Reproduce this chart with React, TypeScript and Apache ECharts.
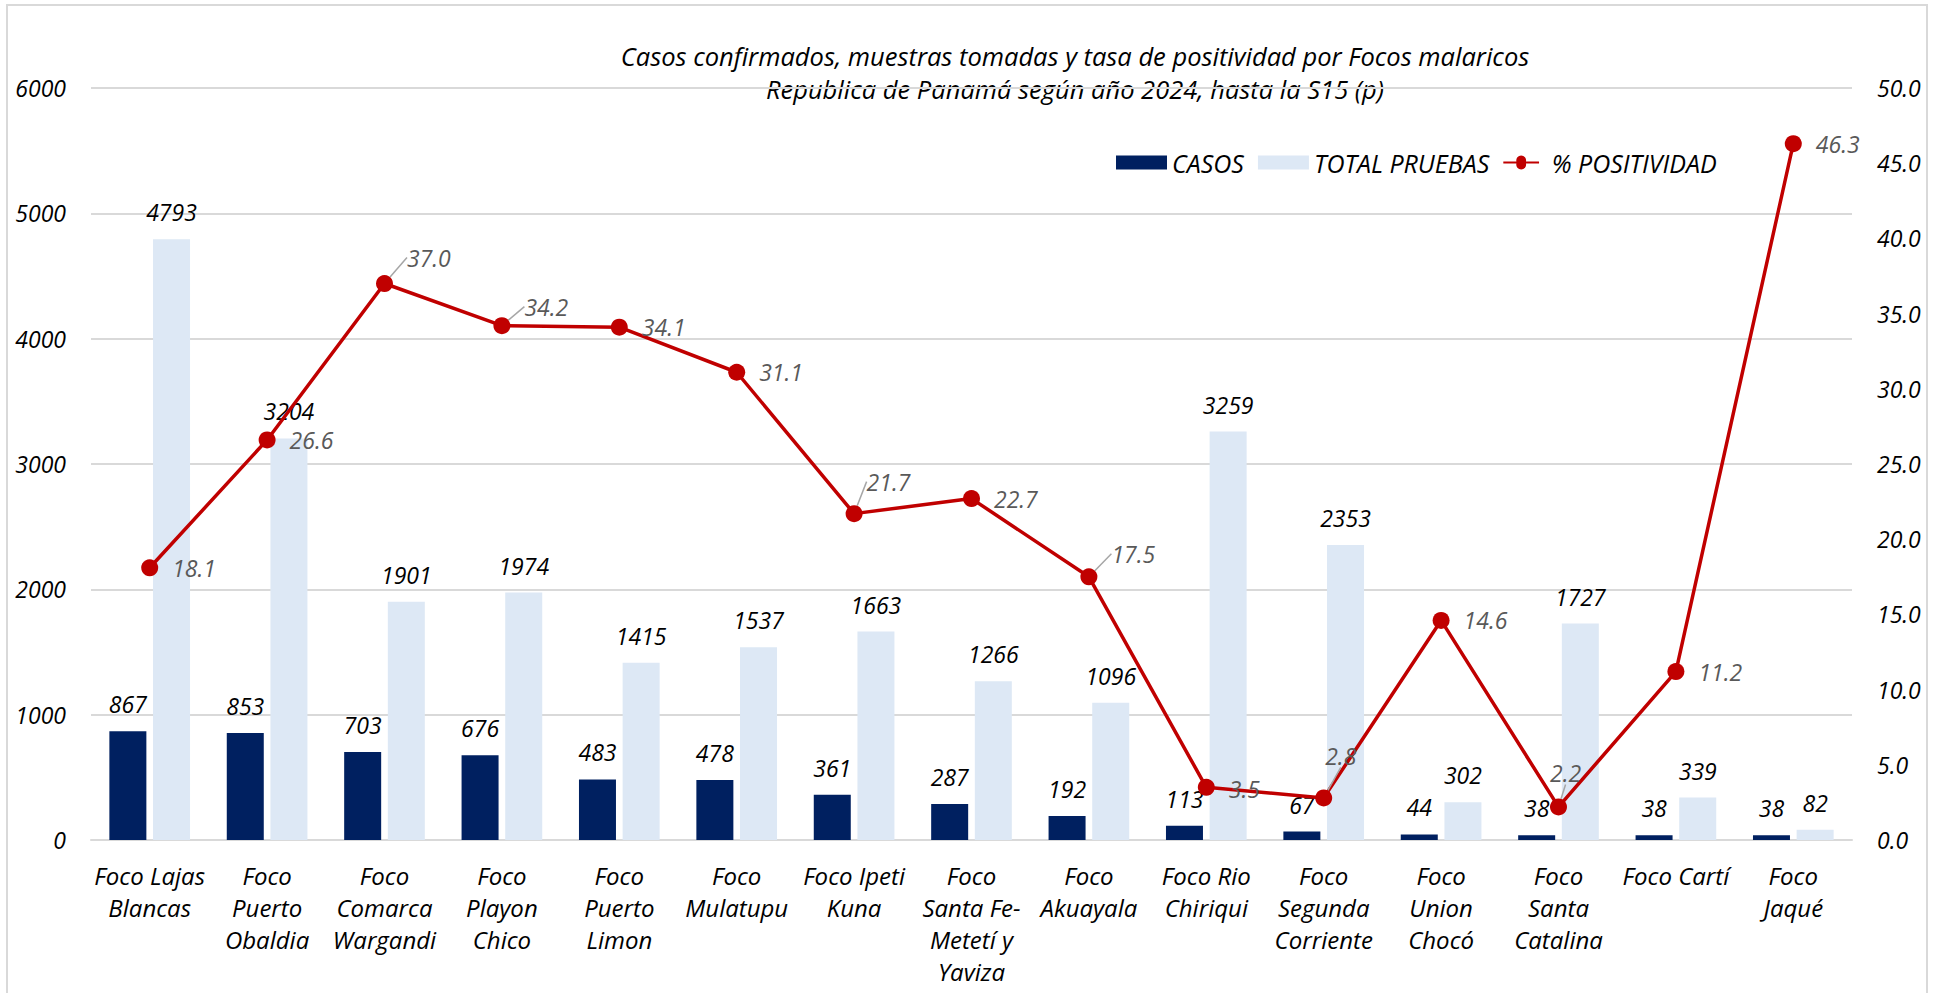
import { useEffect, useRef } from "react";
import * as echarts from "echarts";

const TITLE_LINES = [
  "Casos confirmados, muestras tomadas y tasa de positividad por Focos malaricos",
  "Republica de Panamá según año 2024, hasta la S15 (p)",
];

const CATEGORIES = [
  "Foco Lajas\nBlancas",
  "Foco\nPuerto\nObaldia",
  "Foco\nComarca\nWargandi",
  "Foco\nPlayon\nChico",
  "Foco\nPuerto\nLimon",
  "Foco\nMulatupu",
  "Foco Ipeti\nKuna",
  "Foco\nSanta Fe-\nMetetí y\nYaviza",
  "Foco\nAkuayala",
  "Foco Rio\nChiriqui",
  "Foco\nSegunda\nCorriente",
  "Foco\nUnion\nChocó",
  "Foco\nSanta\nCatalina",
  "Foco Cartí",
  "Foco\nJaqué",
];

const CASOS = [867, 853, 703, 676, 483, 478, 361, 287, 192, 113, 67, 44, 38, 38, 38];
const TOTAL_PRUEBAS = [4793, 3204, 1901, 1974, 1415, 1537, 1663, 1266, 1096, 3259, 2353, 302, 1727, 339, 82];
const POSITIVIDAD = [18.1, 26.6, 37.0, 34.2, 34.1, 31.1, 21.7, 22.7, 17.5, 3.5, 2.8, 14.6, 2.2, 11.2, 46.3];

const SERIES_NAMES = ["CASOS", "TOTAL PRUEBAS", "% POSITIVIDAD"];

const LEFT_AXIS = { min: 0, max: 6000, interval: 1000 };
const RIGHT_AXIS = { min: 0, max: 50, interval: 5 };

// label nudges (layout only) for the % POSITIVIDAD labels that were moved in the original
const LINE_LABEL_SHIFT: Record<number, [number, number]> = {
  2: [0, -26],
  3: [0, -19],
  6: [-10, -32],
  8: [0, -23],
  9: [0, 2],
  10: [-21, -42],
  12: [-31, -34],
};
const LEADER_INDEXES = [2, 3, 6, 8, 10, 12];

// legend icon: thick line with a round marker
const LINE_MARKER_ICON =
  "path://M0,5.5L18.66,5.5A7,7,0,1,1,32.34,5.5L51,5.5L51,8.5L32.34,8.5A7,7,0,1,1,18.66,8.5L0,8.5Z";

const FONT = "'Open Sans', 'Noto Sans', Lato, sans-serif";
const FS = 23;

export default function App() {
  const ref = useRef<HTMLDivElement>(null);

  useEffect(() => {
    document.body.style.margin = "0";
    const el = ref.current!;
    const chart = echarts.init(el, null, { renderer: "svg" });

    const lineData = POSITIVIDAD.map((v, i) => ({
      value: v,
      labelLine: {
        show: LEADER_INDEXES.includes(i),
        lineStyle: { color: "#a6a6a6", width: 1.5 },
      },
    }));

    const txt = { fontFamily: FONT, fontSize: FS, fontStyle: "italic", color: "#000" };

    chart.setOption({
      animation: false,
      backgroundColor: "#ffffff",
      textStyle: { fontFamily: FONT },
      graphic: [
        {
          type: "rect",
          silent: true,
          z: -10,
          shape: { x: 7, y: 5, width: 1920, height: 1000 },
          style: { fill: "none", stroke: "#d9d9d9", lineWidth: 2 },
        },
        {
          type: "text",
          x: 1075,
          y: 39,
          silent: true,
          style: {
            text: TITLE_LINES.join("\n"),
            align: "center",
            verticalAlign: "top",
            fontFamily: FONT,
            fontSize: 25.5,
            fontStyle: "italic",
            lineHeight: 33,
            fill: "#000000",
          },
        },
      ],
      legend: {
        left: 1116,
        top: 150,
        padding: 0,
        itemWidth: 51,
        itemHeight: 14,
        itemGap: 14,
        textStyle: { ...txt, fontSize: 25 },
        data: [
          { name: SERIES_NAMES[0], icon: "rect" },
          { name: SERIES_NAMES[1], icon: "rect" },
          { name: SERIES_NAMES[2], icon: LINE_MARKER_ICON },
        ],
      },
      grid: { left: 91, right: 88, top: 88, bottom: 153, containLabel: false },
      xAxis: {
        type: "category",
        data: CATEGORIES,
        axisTick: { show: false },
        axisLine: { lineStyle: { color: "#d9d9d9", width: 2 } },
        axisLabel: { ...txt, fontSize: 24, interval: 0, margin: 19, lineHeight: 32 },
      },
      yAxis: [
        {
          type: "value",
          ...LEFT_AXIS,
          axisLine: { show: false },
          axisTick: { show: false },
          splitLine: { lineStyle: { color: "#d9d9d9", width: 2 } },
          axisLabel: { ...txt, margin: 25, formatter: (v: number) => String(v) },
        },
        {
          type: "value",
          ...RIGHT_AXIS,
          axisLine: { show: false },
          axisTick: { show: false },
          splitLine: { show: false },
          axisLabel: { ...txt, margin: 25, formatter: (v: number) => v.toFixed(1) },
        },
      ],
      series: [
        {
          name: SERIES_NAMES[0],
          type: "bar",
          data: CASOS,
          barWidth: 37,
          barGap: "18%",
          itemStyle: { color: "#002060" },
          label: { ...txt, show: true, position: "top", distance: 14, lineHeight: 26 },
        },
        {
          name: SERIES_NAMES[1],
          type: "bar",
          data: TOTAL_PRUEBAS,
          barWidth: 37,
          barGap: "18%",
          itemStyle: { color: "#dde8f5" },
          label: { ...txt, show: true, position: "top", distance: 14, lineHeight: 26 },
        },
        {
          name: SERIES_NAMES[2],
          type: "line",
          yAxisIndex: 1,
          data: lineData,
          symbol: "circle",
          symbolSize: 17,
          lineStyle: { color: "#c00000", width: 3.5 },
          itemStyle: { color: "#c00000" },
          label: {
            ...txt,
            show: true,
            position: "right",
            distance: 14,
            color: "#595959",
            formatter: (p: any) => Number(p.value).toFixed(1),
          },
          labelLayout: (p: any) => {
            const s = LINE_LABEL_SHIFT[p.dataIndex];
            return s ? { dx: s[0], dy: s[1] } : {};
          },
        },
      ],
    });

    return () => chart.dispose();
  }, []);

  return <div ref={ref} style={{ width: 1940, height: 993 }} />;
}
